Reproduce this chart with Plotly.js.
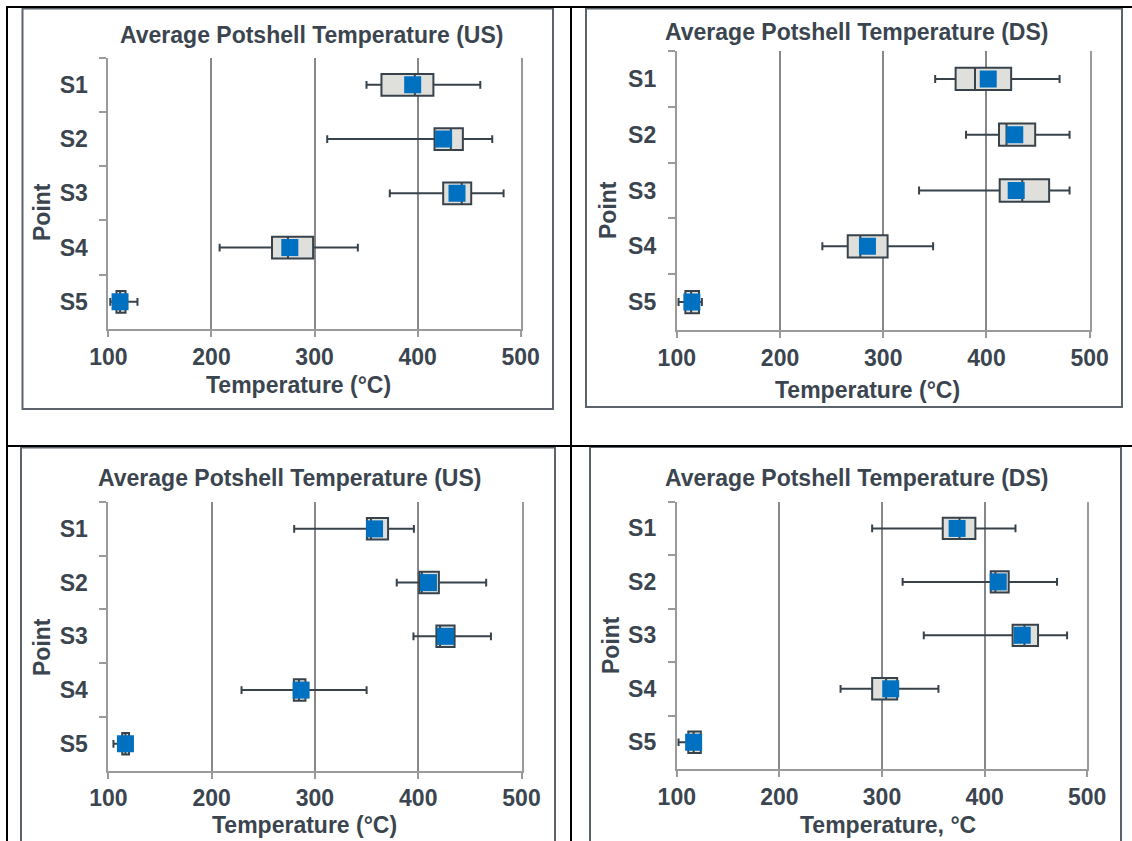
<!DOCTYPE html>
<html>
<head>
<meta charset="utf-8">
<script src="https://cdn.plot.ly/plotly-3.0.1.min.js"></script>
<style>html,body{margin:0;padding:0;background:#fff;}#chart{width:1132px;height:841px;}</style>
</head>
<body>
<div id="chart"></div>
<script>
// ---- data ----
const points = ["S1", "S2", "S3", "S4", "S5"];
const xTicks = [100, 200, 300, 400, 500];

const titles = ["Average Potshell Temperature (US)", "Average Potshell Temperature (DS)",
                "Average Potshell Temperature (US)", "Average Potshell Temperature (DS)"];
const xTitles = ["Temperature (°C)", "Temperature (°C)", "Temperature (°C)", "Temperature, °C"];
const yTitle = "Point";

// Panel 1 (top-left, US)
const p1Low  = [350.4, 312.3, 373.0, 207.9, 101.8];
const p1Q1   = [364.9, 416.4, 424.8, 258.7, 107.8];
const p1Med  = [397.3, 432.2, 442.8, 274.2, 111.3];
const p1Q3   = [415.3, 443.9, 452.0, 298.6, 116.6];
const p1High = [460.8, 472.4, 483.4, 342.0, 128.2];
const p1Mean = [395.2, 425.2, 438.2, 276.0, 111.3];

// Panel 2 (top-right, DS)
const p2Low  = [350.3, 380.2, 334.7, 241.0, 101.7];
const p2Q1   = [370.1, 412.1, 412.8, 265.6, 108.3];
const p2Med  = [388.9, 419.4, 434.7, 277.8, 113.9];
const p2Q3   = [423.9, 447.2, 460.7, 304.2, 121.5];
const p2High = [470.8, 480.5, 480.5, 348.3, 124.3];
const p2Mean = [401.7, 427.4, 428.8, 284.7, 114.6];

// Panel 3 (bottom-left, US)
const p3Low  = [279.9, 379.2, 395.4, 228.9, 104.9];
const p3Q1   = [350.3, 401.0, 417.6, 279.6, 113.4];
const p3Med  = [354.2, 403.5, 421.1, 284.5, 116.5];
const p3Q3   = [370.8, 420.0, 435.2, 290.8, 120.0];
const p3High = [395.8, 465.8, 470.4, 350.0, 121.8];
const p3Mean = [357.7, 409.9, 426.4, 286.6, 116.5];

// Panel 4 (bottom-right, DS)
const p4Low  = [290.4, 320.1, 340.7, 259.6, 101.7];
const p4Q1   = [359.2, 406.0, 427.3, 290.4, 111.2];
const p4Med  = [375.6, 410.5, 438.8, 304.0, 116.4];
const p4Q3   = [391.0, 423.5, 452.1, 314.8, 123.4];
const p4High = [430.1, 470.6, 480.4, 355.0, 123.4];
const p4Mean = [373.2, 413.3, 436.7, 308.5, 116.4];

// ---- styling / layout ----
const W = 1132, H = 841;
const TXT = "#3b454f";
const FONT = "Liberation Sans, Arial, sans-serif";
const BOXLINE = "#38424b";
const BOXFILL = "#dfdfdb";
const BLUE = "#0070c0";
const GRID = "#878787";
const AXIS = "#9a9a9a";
const TFS = 23;   // title / axis-title size
const KFS = 23;   // tick label size

const panels = [
  {low: p1Low, q1: p1Q1, med: p1Med, q3: p1Q3, high: p1High, mean: p1Mean,
   px: [108.4, 520.7], py: [57.7, 329], title: [311, 35], xt: [298, 385], yt: [42, 212], frame: [22.5, 8.5, 553, 409]},
  {low: p2Low, q1: p2Q1, med: p2Med, q3: p2Q3, high: p2High, mean: p2Mean,
   px: [676.8, 1089.7], py: [51, 330], title: [856, 32], xt: [867, 390], yt: [608, 210], frame: [586, 8.5, 1122, 407]},
  {low: p3Low, q1: p3Q1, med: p3Med, q3: p3Q3, high: p3High, mean: p3Mean,
   px: [108.4, 521.5], py: [502, 770.7], title: [289, 478], xt: [304, 825], yt: [42, 647], frame: [21, 447.5, 555, 860]},
  {low: p4Low, q1: p4Q1, med: p4Med, q3: p4Q3, high: p4High, mean: p4Mean,
   px: [676.8, 1087.2], py: [501.7, 769], title: [856, 478], xt: [888, 825], yt: [611, 645], frame: [590, 447, 1121, 860]}
];

const data = [];
const layout = {
  width: W, height: H,
  margin: {l: 0, r: 0, t: 0, b: 0},
  paper_bgcolor: "#ffffff", plot_bgcolor: "#ffffff",
  showlegend: false,
  font: {family: FONT, color: TXT},
  annotations: [],
  shapes: []
};

const fx = v => v / W;
const fy = v => 1 - v / H;

panels.forEach((p, i) => {
  const n = i + 1;
  const xa = n === 1 ? "x" : "x" + n;
  const ya = n === 1 ? "y" : "y" + n;
  const xkey = n === 1 ? "xaxis" : "xaxis" + n;
  const ykey = n === 1 ? "yaxis" : "yaxis" + n;

  data.push({
    type: "box", orientation: "h",
    y: points, q1: p.q1, median: p.med, q3: p.q3,
    lowerfence: p.low, upperfence: p.high,
    boxpoints: false, width: 0.4, whiskerwidth: 0.36,
    fillcolor: BOXFILL, line: {color: BOXLINE, width: 2},
    xaxis: xa, yaxis: ya, hoverinfo: "skip"
  });
  data.push({
    type: "scatter", mode: "markers",
    x: p.mean, y: points,
    marker: {symbol: "square", size: 17, color: BLUE},
    xaxis: xa, yaxis: ya, hoverinfo: "skip"
  });

  layout[xkey] = {
    domain: [fx(p.px[0]), fx(p.px[1])],
    anchor: ya, range: [100, 500], tickvals: xTicks, ticktext: xTicks.map(String),
    showgrid: true, gridcolor: GRID, gridwidth: 2, zeroline: false,
    showline: true, linecolor: AXIS, linewidth: 2,
    ticks: "outside", ticklen: 6, tickcolor: AXIS, tickwidth: 2,
    ticklabelstandoff: 0,
    tickfont: {family: FONT, size: KFS, color: TXT, weight: 700},
    fixedrange: true
  };
  layout[ykey] = {
    domain: [fy(p.py[1]), fy(p.py[0])],
    anchor: xa, type: "category", categoryorder: "array", categoryarray: points,
    range: [4.5, -0.5], tickson: "boundaries",
    showgrid: false, zeroline: false,
    showline: true, mirror: true, linecolor: AXIS, linewidth: 2,
    ticks: "outside", ticklen: 7, tickcolor: AXIS, tickwidth: 2,
    ticklabelstandoff: 14,
    tickfont: {family: FONT, size: KFS, color: TXT, weight: 700},
    fixedrange: true
  };

  layout.annotations.push({
    text: titles[i], xref: "paper", yref: "paper",
    x: fx(p.title[0]), y: fy(p.title[1]), xanchor: "center", yanchor: "middle",
    showarrow: false, font: {family: FONT, size: TFS, color: TXT, weight: 700}
  });
  layout.annotations.push({
    text: xTitles[i], xref: "paper", yref: "paper",
    x: fx(p.xt[0]), y: fy(p.xt[1]), xanchor: "center", yanchor: "middle",
    showarrow: false, font: {family: FONT, size: TFS, color: TXT, weight: 700}
  });
  layout.annotations.push({
    text: yTitle, xref: "paper", yref: "paper", textangle: -90,
    x: fx(p.yt[0]), y: fy(p.yt[1]), xanchor: "center", yanchor: "middle",
    showarrow: false, font: {family: FONT, size: TFS, color: TXT, weight: 700}
  });

  const f = p.frame;
  layout.shapes.push({
    type: "rect", xref: "paper", yref: "paper", layer: "below",
    x0: fx(f[0]), x1: fx(f[2]), y0: fy(f[1]), y1: fy(f[3]),
    line: {color: "#5c636b", width: 2}, fillcolor: "rgba(0,0,0,0)"
  });
});

// table borders (black)
const blk = {color: "#000000", width: 2};
layout.shapes.push({type: "line", xref: "paper", yref: "paper", x0: fx(6), x1: fx(1132), y0: fy(7), y1: fy(7), line: blk});
layout.shapes.push({type: "line", xref: "paper", yref: "paper", x0: fx(7), x1: fx(7), y0: fy(6), y1: fy(841), line: blk});
layout.shapes.push({type: "line", xref: "paper", yref: "paper", x0: fx(571), x1: fx(571), y0: fy(6), y1: fy(841), line: blk});
layout.shapes.push({type: "line", xref: "paper", yref: "paper", x0: fx(6), x1: fx(1132), y0: fy(446), y1: fy(446), line: blk});

Plotly.newPlot("chart", data, layout, {staticPlot: true, displayModeBar: false});
</script>
</body>
</html>
